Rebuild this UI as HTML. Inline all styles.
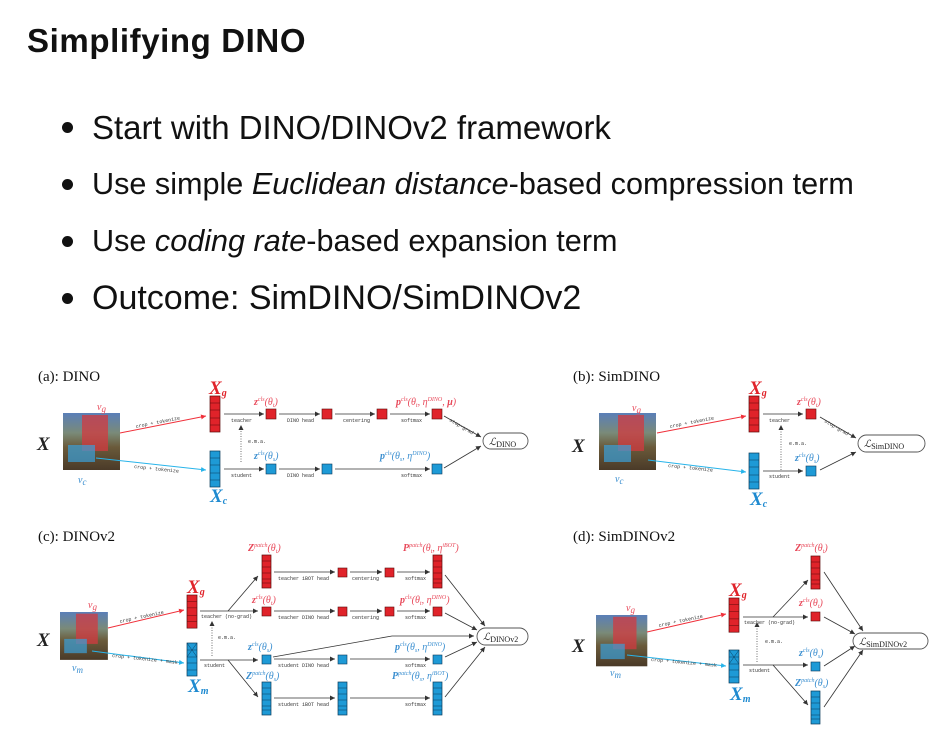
<!DOCTYPE html>
<html><head><meta charset="utf-8"><style>
html,body{margin:0;padding:0;background:#fff;}
body{width:945px;height:736px;overflow:hidden;position:relative;font-family:"Liberation Sans",sans-serif;}
h1{position:absolute;left:27px;top:22px;margin:0;font-size:33px;letter-spacing:0.6px;font-weight:bold;color:#111;}
.b{position:absolute;left:92px;font-size:31px;color:#111;white-space:nowrap;}
.d{position:absolute;left:62px;width:11px;height:11px;border-radius:50%;background:#111;}
svg{position:absolute;left:0;top:0;}
.lab{font-family:"Liberation Serif",serif;font-size:15px;fill:#111;}
.t{font-family:"Liberation Mono",monospace;font-size:5px;fill:#333;}
.m{font-family:"Liberation Serif",serif;font-style:italic;font-size:10px;}
.X{font-family:"Liberation Serif",serif;font-style:italic;font-weight:bold;font-size:19px;fill:#222;}
.r{fill:#e8495a;} .bl{fill:#3b8fd0;}
.ln{stroke:#333;stroke-width:0.8;fill:none;}
</style></head><body>
<h1>Simplifying DINO</h1>
<div class="d" style="top:122px"></div><div class="b" style="top:109px;font-size:33px">Start with DINO/DINOv2 framework</div>
<div class="d" style="top:179px"></div><div class="b" style="top:167px;font-size:30.6px">Use simple <i>Euclidean distance</i>-based compression term</div>
<div class="d" style="top:236px"></div><div class="b" style="top:224px;font-size:30.6px">Use <i>coding rate</i>-based expansion term</div>
<div class="d" style="top:293px"></div><div class="b" style="top:279px;font-size:34px">Outcome: SimDINO/SimDINOv2</div>

<svg width="945" height="736" viewBox="0 0 945 736">
<defs>
<marker id="a" markerWidth="6" markerHeight="6" refX="5" refY="3" orient="auto" markerUnits="userSpaceOnUse"><path d="M0,0.5 L5,3 L0,5.5z" fill="#333"/></marker>
<marker id="ar" markerWidth="6" markerHeight="6" refX="5" refY="3" orient="auto" markerUnits="userSpaceOnUse"><path d="M0,0.5 L5,3 L0,5.5z" fill="#f0303a"/></marker>
<marker id="ab" markerWidth="6" markerHeight="6" refX="5" refY="3" orient="auto" markerUnits="userSpaceOnUse"><path d="M0,0.5 L5,3 L0,5.5z" fill="#28b4ea"/></marker>
<linearGradient id="img" x1="0" y1="0" x2="0" y2="1"><stop offset="0" stop-color="#5a7fb8"/><stop offset="0.35" stop-color="#7a8a78"/><stop offset="0.6" stop-color="#6a5a3a"/><stop offset="1" stop-color="#4a3a28"/></linearGradient>
<g id="rs"><rect width="10" height="10" fill="#e0232a" stroke="#5a0a0a" stroke-width="0.6"/></g>
<g id="bs"><rect width="10" height="10" fill="#1e9ad6" stroke="#0a3a5a" stroke-width="0.6"/></g>
<g id="rs9"><rect width="9" height="9" fill="#e0232a" stroke="#5a0a0a" stroke-width="0.6"/></g>
<g id="bs9"><rect width="9" height="9" fill="#1e9ad6" stroke="#0a3a5a" stroke-width="0.6"/></g>
<g id="rc"><rect width="10" height="36" fill="#e0232a" stroke="#5a0a0a" stroke-width="0.7"/><path d="M0,7H10M0,14H10M0,22H10M0,29H10" stroke="#5a0a0a" stroke-width="0.5"/></g>
<g id="bc"><rect width="10" height="36" fill="#1e9ad6" stroke="#0a3a5a" stroke-width="0.7"/><path d="M0,7H10M0,14H10M0,22H10M0,29H10" stroke="#0a3a5a" stroke-width="0.5"/></g>
<g id="bm"><rect width="10" height="33" fill="#1e9ad6" stroke="#0a3a5a" stroke-width="0.7"/><path d="M0,7H10M0,14H10M0,20H10M0,27H10M0,0L10,14M10,0L0,14" stroke="#0a3a5a" stroke-width="0.5"/></g>
<g id="rt"><rect width="9" height="33" fill="#e0232a" stroke="#5a0a0a" stroke-width="0.7"/><path d="M0,6H9M0,12H9M0,18H9M0,24H9M0,28H9" stroke="#5a0a0a" stroke-width="0.5"/></g>
<g id="bt"><rect width="9" height="33" fill="#1e9ad6" stroke="#0a3a5a" stroke-width="0.7"/><path d="M0,6H9M0,12H9M0,18H9M0,24H9M0,28H9" stroke="#0a3a5a" stroke-width="0.5"/></g>
<g id="im"><rect width="57" height="57" fill="url(#img)"/><rect x="19" y="2" width="26" height="36" fill="#d23a40" opacity="0.75"/><rect x="5" y="32" width="27" height="17" fill="#3aa0d8" opacity="0.7"/></g>
</defs>

<!-- (a) -->
<text class="lab" x="38" y="381">(a): DINO</text>
<text class="X" x="37" y="450">X</text>
<use href="#im" x="63" y="413"/>
<text class="m r" x="97" y="410" font-size="13">v<tspan font-size="9" dy="2">g</tspan></text>
<text class="m bl" x="78" y="483" font-size="13">v<tspan font-size="9" dy="2">c</tspan></text>
<line x1="120" y1="433" x2="206" y2="416" stroke="#f0303a" stroke-width="1" marker-end="url(#ar)"/>
<line x1="96" y1="458" x2="206" y2="470" stroke="#28b4ea" stroke-width="1" marker-end="url(#ab)"/>
<text class="t" transform="translate(136,428) rotate(-11)">crop + tokenize</text>
<text class="t" transform="translate(134,468) rotate(6)">crop + tokenize</text>
<use href="#rc" x="210" y="396"/><use href="#bc" x="210" y="451"/>
<text class="X" x="209" y="394" font-size="15" style="fill:#e0232a">X<tspan font-size="10" dy="2">g</tspan></text>
<text class="X" x="210" y="502" font-size="15" style="fill:#1e8ad0">X<tspan font-size="10" dy="2">c</tspan></text>
<line class="ln" x1="224" y1="414" x2="264" y2="414" marker-end="url(#a)"/><text class="t" x="231" y="422">teacher</text>
<use href="#rs" x="266" y="409"/><use href="#rs" x="322" y="409"/><use href="#rs" x="377" y="409"/><use href="#rs" x="432" y="409"/>
<line class="ln" x1="279" y1="414" x2="320" y2="414" marker-end="url(#a)"/><text class="t" x="287" y="422">DINO head</text>
<line class="ln" x1="335" y1="414" x2="375" y2="414" marker-end="url(#a)"/><text class="t" x="343" y="422">centering</text>
<line class="ln" x1="390" y1="414" x2="430" y2="414" marker-end="url(#a)"/><text class="t" x="401" y="422">softmax</text>
<text class="m r" x="254" y="405"><tspan font-weight="bold">z</tspan><tspan font-size="6" dy="-4">cls</tspan><tspan dy="4">(θ</tspan><tspan font-size="6" dy="2">t</tspan><tspan dy="-2">)</tspan></text>
<text class="m r" x="396" y="405"><tspan font-weight="bold">p</tspan><tspan font-size="6" dy="-4">cls</tspan><tspan dy="4">(θ</tspan><tspan font-size="6" dy="2">t</tspan><tspan dy="-2">, η</tspan><tspan font-size="6" dy="-4">DINO</tspan><tspan dy="4">, </tspan><tspan font-weight="bold">μ</tspan>)</text>
<line class="ln" x1="224" y1="469" x2="264" y2="469" marker-end="url(#a)"/><text class="t" x="231" y="477">student</text>
<use href="#bs" x="266" y="464"/><use href="#bs" x="322" y="464"/><use href="#bs" x="432" y="464"/>
<line class="ln" x1="279" y1="469" x2="320" y2="469" marker-end="url(#a)"/><text class="t" x="287" y="477">DINO head</text>
<line class="ln" x1="335" y1="469" x2="430" y2="469" marker-end="url(#a)"/><text class="t" x="401" y="477">softmax</text>
<text class="m bl" x="254" y="459"><tspan font-weight="bold">z</tspan><tspan font-size="6" dy="-4">cls</tspan><tspan dy="4">(θ</tspan><tspan font-size="6" dy="2">s</tspan><tspan dy="-2">)</tspan></text>
<text class="m bl" x="380" y="459"><tspan font-weight="bold">p</tspan><tspan font-size="6" dy="-4">cls</tspan><tspan dy="4">(θ</tspan><tspan font-size="6" dy="2">s</tspan><tspan dy="-2">, η</tspan><tspan font-size="6" dy="-4">DINO</tspan><tspan dy="4">)</tspan></text>
<line x1="241" y1="462" x2="241" y2="425" stroke="#333" stroke-width="0.7" stroke-dasharray="1,1.5" marker-end="url(#a)"/><text class="t" x="248" y="443">e.m.a.</text>
<line class="ln" x1="444" y1="416" x2="481" y2="437" marker-end="url(#a)"/><text class="t" transform="translate(449,421) rotate(30)">stop-grad</text>
<line class="ln" x1="444" y1="468" x2="481" y2="446" marker-end="url(#a)"/>
<rect x="483" y="433" width="45" height="16" rx="8" fill="#fff" stroke="#555" stroke-width="0.9"/>
<text class="m" x="489" y="445" fill="#222">ℒ<tspan font-style="normal" font-size="8" dy="2">DINO</tspan></text>

<!-- (b) -->
<text class="lab" x="573" y="381">(b): SimDINO</text>
<text class="X" x="572" y="452">X</text>
<use href="#im" x="599" y="413"/>
<text class="m r" x="632" y="411" font-size="13">v<tspan font-size="9" dy="2">g</tspan></text>
<text class="m bl" x="615" y="482" font-size="13">v<tspan font-size="9" dy="2">c</tspan></text>
<line x1="657" y1="433" x2="746" y2="416" stroke="#f0303a" stroke-width="1" marker-end="url(#ar)"/>
<line x1="648" y1="460" x2="746" y2="472" stroke="#28b4ea" stroke-width="1" marker-end="url(#ab)"/>
<text class="t" transform="translate(670,428) rotate(-11)">crop + tokenize</text>
<text class="t" transform="translate(668,467) rotate(6)">crop + tokenize</text>
<use href="#rc" x="749" y="396"/><use href="#bc" x="749" y="453"/>
<text class="X" x="749" y="394" font-size="15" style="fill:#e0232a">X<tspan font-size="10" dy="2">g</tspan></text>
<text class="X" x="750" y="505" font-size="15" style="fill:#1e8ad0">X<tspan font-size="10" dy="2">c</tspan></text>
<line class="ln" x1="763" y1="414" x2="803" y2="414" marker-end="url(#a)"/><text class="t" x="769" y="422">teacher</text>
<line class="ln" x1="763" y1="471" x2="803" y2="471" marker-end="url(#a)"/><text class="t" x="769" y="478">student</text>
<use href="#rs" x="806" y="409"/><use href="#bs" x="806" y="466"/>
<text class="m r" x="797" y="405"><tspan font-weight="bold">z</tspan><tspan font-size="6" dy="-4">cls</tspan><tspan dy="4">(θ</tspan><tspan font-size="6" dy="2">t</tspan><tspan dy="-2">)</tspan></text>
<text class="m bl" x="795" y="461"><tspan font-weight="bold">z</tspan><tspan font-size="6" dy="-4">cls</tspan><tspan dy="4">(θ</tspan><tspan font-size="6" dy="2">s</tspan><tspan dy="-2">)</tspan></text>
<line x1="781" y1="470" x2="781" y2="425" stroke="#333" stroke-width="0.7" stroke-dasharray="1,1.5" marker-end="url(#a)"/><text class="t" x="789" y="445">e.m.a.</text>
<line class="ln" x1="820" y1="417" x2="856" y2="438" marker-end="url(#a)"/><text class="t" transform="translate(824,422) rotate(30)">stop-grad</text>
<line class="ln" x1="820" y1="470" x2="856" y2="452" marker-end="url(#a)"/>
<rect x="858" y="435" width="67" height="17" rx="8.5" fill="#fff" stroke="#555" stroke-width="0.9"/>
<text class="m" x="864" y="447" fill="#222">ℒ<tspan font-style="normal" font-size="8" dy="2">SimDINO</tspan></text>

<!-- (c) -->
<text class="lab" x="38" y="541">(c): DINOv2</text>
<text class="X" x="37" y="646">X</text>
<use href="#im" x="60" y="612" transform="translate(60,612) scale(0.84) translate(-60,-612)"/>
<text class="m r" x="88" y="608" font-size="13">v<tspan font-size="9" dy="2">g</tspan></text>
<text class="m bl" x="72" y="671" font-size="13">v<tspan font-size="9" dy="2">m</tspan></text>
<line x1="108" y1="628" x2="184" y2="610" stroke="#f0303a" stroke-width="1" marker-end="url(#ar)"/>
<line x1="92" y1="651" x2="184" y2="663" stroke="#28b4ea" stroke-width="1" marker-end="url(#ab)"/>
<text class="t" transform="translate(120,623) rotate(-12)">crop + tokenize</text>
<text class="t" transform="translate(112,657) rotate(6)">crop + tokenize + mask</text>
<use href="#rc" x="187" y="595" transform="translate(187,595) scale(1,0.92) translate(-187,-595)"/><use href="#bm" x="187" y="643"/>
<text class="X" x="187" y="593" font-size="15" style="fill:#e0232a">X<tspan font-size="10" dy="2">g</tspan></text>
<text class="X" x="188" y="692" font-size="15" style="fill:#1e8ad0">X<tspan font-size="10" dy="2">m</tspan></text>
<line class="ln" x1="200" y1="611" x2="258" y2="611" marker-end="url(#a)"/><text class="t" x="201" y="618">teacher (no-grad)</text>
<line class="ln" x1="228" y1="611" x2="258" y2="576" marker-end="url(#a)"/>
<line class="ln" x1="200" y1="660" x2="258" y2="660" marker-end="url(#a)"/><text class="t" x="204" y="667">student</text>
<line class="ln" x1="228" y1="660" x2="258" y2="697" marker-end="url(#a)"/>
<line x1="212" y1="656" x2="212" y2="621" stroke="#333" stroke-width="0.7" stroke-dasharray="1,1.5" marker-end="url(#a)"/><text class="t" x="218" y="639">e.m.a.</text>
<use href="#rt" x="262" y="555"/><use href="#rs9" x="338" y="568"/><use href="#rs9" x="385" y="568"/><use href="#rt" x="433" y="555"/>
<line class="ln" x1="274" y1="572" x2="335" y2="572" marker-end="url(#a)"/><text class="t" x="278" y="580">teacher iBOT head</text>
<line class="ln" x1="350" y1="572" x2="382" y2="572" marker-end="url(#a)"/><text class="t" x="352" y="580">centering</text>
<line class="ln" x1="397" y1="572" x2="430" y2="572" marker-end="url(#a)"/><text class="t" x="405" y="580">softmax</text>
<text class="m r" x="248" y="551"><tspan font-weight="bold">Z</tspan><tspan font-size="6" dy="-4">patch</tspan><tspan dy="4">(θ</tspan><tspan font-size="6" dy="2">t</tspan><tspan dy="-2">)</tspan></text>
<text class="m r" x="403" y="551"><tspan font-weight="bold">P</tspan><tspan font-size="6" dy="-4">patch</tspan><tspan dy="4">(θ</tspan><tspan font-size="6" dy="2">t</tspan><tspan dy="-2">, η</tspan><tspan font-size="6" dy="-4">iBOT</tspan><tspan dy="4">)</tspan></text>
<use href="#rs9" x="262" y="607"/><use href="#rs9" x="338" y="607"/><use href="#rs9" x="385" y="607"/><use href="#rs9" x="433" y="607"/>
<line class="ln" x1="274" y1="611" x2="335" y2="611" marker-end="url(#a)"/><text class="t" x="278" y="619">teacher DINO head</text>
<line class="ln" x1="350" y1="611" x2="382" y2="611" marker-end="url(#a)"/><text class="t" x="352" y="619">centering</text>
<line class="ln" x1="397" y1="611" x2="430" y2="611" marker-end="url(#a)"/><text class="t" x="405" y="619">softmax</text>
<text class="m r" x="252" y="603"><tspan font-weight="bold">z</tspan><tspan font-size="6" dy="-4">cls</tspan><tspan dy="4">(θ</tspan><tspan font-size="6" dy="2">t</tspan><tspan dy="-2">)</tspan></text>
<text class="m r" x="400" y="603"><tspan font-weight="bold">p</tspan><tspan font-size="6" dy="-4">cls</tspan><tspan dy="4">(θ</tspan><tspan font-size="6" dy="2">t</tspan><tspan dy="-2">, η</tspan><tspan font-size="6" dy="-4">DINO</tspan><tspan dy="4">)</tspan></text>
<use href="#bs9" x="262" y="655"/><use href="#bs9" x="338" y="655"/><use href="#bs9" x="433" y="655"/>
<line class="ln" x1="274" y1="659" x2="335" y2="659" marker-end="url(#a)"/><text class="t" x="278" y="667">student DINO head</text>
<line class="ln" x1="350" y1="659" x2="430" y2="659" marker-end="url(#a)"/><text class="t" x="405" y="667">softmax</text>
<text class="m bl" x="248" y="650"><tspan font-weight="bold">z</tspan><tspan font-size="6" dy="-4">cls</tspan><tspan dy="4">(θ</tspan><tspan font-size="6" dy="2">s</tspan><tspan dy="-2">)</tspan></text>
<text class="m bl" x="395" y="650"><tspan font-weight="bold">p</tspan><tspan font-size="6" dy="-4">cls</tspan><tspan dy="4">(θ</tspan><tspan font-size="6" dy="2">s</tspan><tspan dy="-2">, η</tspan><tspan font-size="6" dy="-4">DINO</tspan><tspan dy="4">)</tspan></text>
<polyline class="ln" points="273,657 392,636 474,636" marker-end="url(#a)"/>
<use href="#bt" x="262" y="682"/><use href="#bt" x="338" y="682"/><use href="#bt" x="433" y="682"/>
<line class="ln" x1="274" y1="698" x2="335" y2="698" marker-end="url(#a)"/><text class="t" x="278" y="706">student iBOT head</text>
<line class="ln" x1="350" y1="698" x2="430" y2="698" marker-end="url(#a)"/><text class="t" x="405" y="706">softmax</text>
<text class="m bl" x="246" y="679"><tspan font-weight="bold">Z</tspan><tspan font-size="6" dy="-4">patch</tspan><tspan dy="4">(θ</tspan><tspan font-size="6" dy="2">s</tspan><tspan dy="-2">)</tspan></text>
<text class="m bl" x="392" y="679"><tspan font-weight="bold">P</tspan><tspan font-size="6" dy="-4">patch</tspan><tspan dy="4">(θ</tspan><tspan font-size="6" dy="2">s</tspan><tspan dy="-2">, η</tspan><tspan font-size="6" dy="-4">iBOT</tspan><tspan dy="4">)</tspan></text>
<line class="ln" x1="445" y1="575" x2="485" y2="626" marker-end="url(#a)"/>
<line class="ln" x1="445" y1="613" x2="477" y2="630" marker-end="url(#a)"/>
<line class="ln" x1="445" y1="657" x2="477" y2="642" marker-end="url(#a)"/>
<line class="ln" x1="445" y1="697" x2="485" y2="647" marker-end="url(#a)"/>
<rect x="477" y="628" width="51" height="17" rx="8.5" fill="#fff" stroke="#555" stroke-width="0.9"/>
<text class="m" x="483" y="640" fill="#222">ℒ<tspan font-style="normal" font-size="8" dy="2">DINOv2</tspan></text>

<!-- (d) -->
<text class="lab" x="573" y="541">(d): SimDINOv2</text>
<text class="X" x="572" y="652">X</text>
<use href="#im" x="596" y="615" transform="translate(596,615) scale(0.9) translate(-596,-615)"/>
<text class="m r" x="626" y="611" font-size="13">v<tspan font-size="9" dy="2">g</tspan></text>
<text class="m bl" x="610" y="676" font-size="13">v<tspan font-size="9" dy="2">m</tspan></text>
<line x1="647" y1="632" x2="726" y2="614" stroke="#f0303a" stroke-width="1" marker-end="url(#ar)"/>
<line x1="627" y1="655" x2="726" y2="666" stroke="#28b4ea" stroke-width="1" marker-end="url(#ab)"/>
<text class="t" transform="translate(659,627) rotate(-12)">crop + tokenize</text>
<text class="t" transform="translate(651,661) rotate(5)">crop + tokenize + mask</text>
<use href="#rc" x="729" y="598" transform="translate(729,598) scale(1,0.95) translate(-729,-598)"/><use href="#bm" x="729" y="650"/>
<text class="X" x="729" y="596" font-size="15" style="fill:#e0232a">X<tspan font-size="10" dy="2">g</tspan></text>
<text class="X" x="730" y="700" font-size="15" style="fill:#1e8ad0">X<tspan font-size="10" dy="2">m</tspan></text>
<line class="ln" x1="743" y1="617" x2="808" y2="617" marker-end="url(#a)"/><text class="t" x="744" y="624">teacher (no-grad)</text>
<line class="ln" x1="773" y1="617" x2="808" y2="580" marker-end="url(#a)"/>
<line class="ln" x1="743" y1="665" x2="808" y2="665" marker-end="url(#a)"/><text class="t" x="749" y="672">student</text>
<line class="ln" x1="773" y1="665" x2="808" y2="705" marker-end="url(#a)"/>
<line x1="757" y1="662" x2="757" y2="622" stroke="#333" stroke-width="0.7" stroke-dasharray="1,1.5" marker-end="url(#a)"/><text class="t" x="765" y="643">e.m.a.</text>
<use href="#rt" x="811" y="556"/><use href="#rs9" x="811" y="612"/><use href="#bs9" x="811" y="662"/><use href="#bt" x="811" y="691"/>
<text class="m r" x="795" y="551"><tspan font-weight="bold">Z</tspan><tspan font-size="6" dy="-4">patch</tspan><tspan dy="4">(θ</tspan><tspan font-size="6" dy="2">t</tspan><tspan dy="-2">)</tspan></text>
<text class="m r" x="799" y="606"><tspan font-weight="bold">z</tspan><tspan font-size="6" dy="-4">cls</tspan><tspan dy="4">(θ</tspan><tspan font-size="6" dy="2">t</tspan><tspan dy="-2">)</tspan></text>
<text class="m bl" x="799" y="656"><tspan font-weight="bold">z</tspan><tspan font-size="6" dy="-4">cls</tspan><tspan dy="4">(θ</tspan><tspan font-size="6" dy="2">s</tspan><tspan dy="-2">)</tspan></text>
<text class="m bl" x="795" y="686"><tspan font-weight="bold">Z</tspan><tspan font-size="6" dy="-4">patch</tspan><tspan dy="4">(θ</tspan><tspan font-size="6" dy="2">s</tspan><tspan dy="-2">)</tspan></text>
<line class="ln" x1="824" y1="572" x2="863" y2="631" marker-end="url(#a)"/>
<line class="ln" x1="824" y1="617" x2="855" y2="634" marker-end="url(#a)"/>
<line class="ln" x1="824" y1="666" x2="855" y2="646" marker-end="url(#a)"/>
<line class="ln" x1="824" y1="707" x2="863" y2="650" marker-end="url(#a)"/>
<rect x="853" y="633" width="75" height="16" rx="8" fill="#fff" stroke="#555" stroke-width="0.9"/>
<text class="m" x="859" y="645" fill="#222">ℒ<tspan font-style="normal" font-size="8" dy="2">SimDINOv2</tspan></text>
</svg>
</body></html>
